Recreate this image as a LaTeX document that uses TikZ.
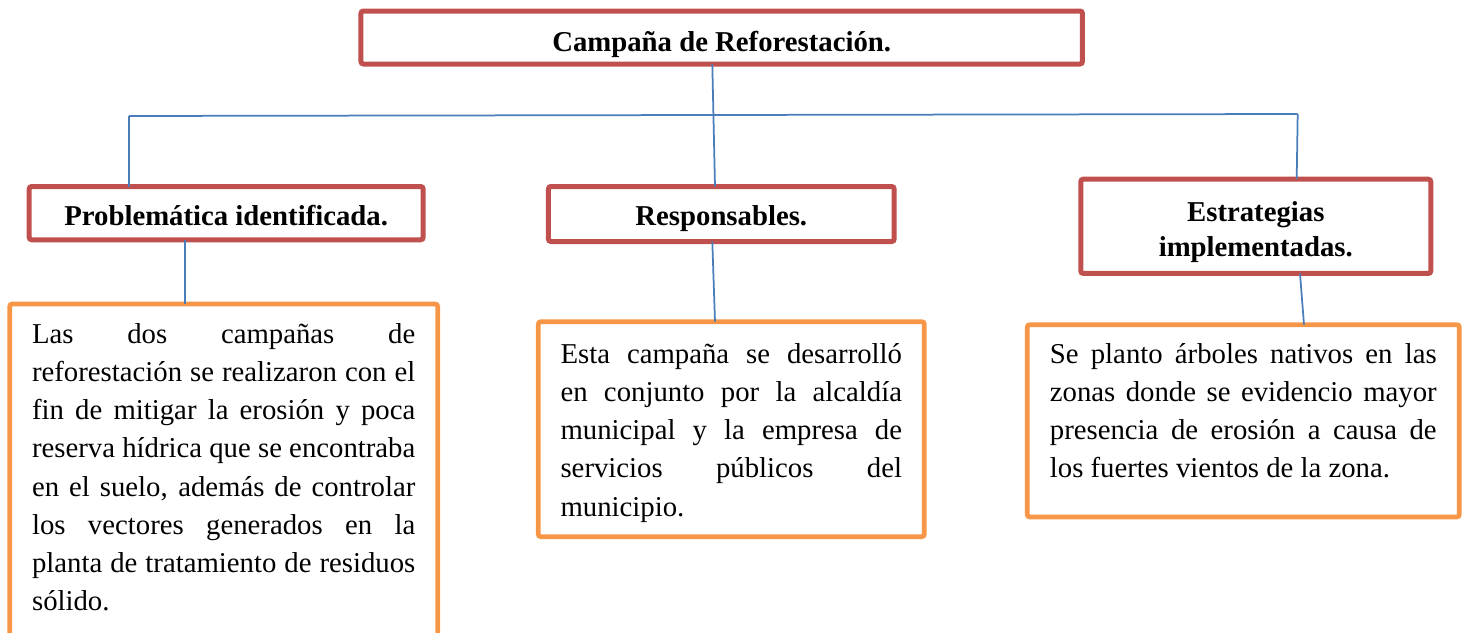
\documentclass[tikz,border=0pt]{standalone}
\usepackage{fontspec}
\setmainfont{Liberation Serif}
\usetikzlibrary{positioning}

\definecolor{boxred}{HTML}{C0504D}
\definecolor{boxorange}{HTML}{F79646}
\definecolor{linkblue}{HTML}{4A7EBB}

\tikzset{
  headbox/.style={draw=boxred, line width=2pt, rounded corners=1pt, inner sep=0pt, outer sep=0pt,
    align=center, font=\bfseries\fontsize{11.5pt}{14pt}\selectfont},
  notebox/.style={draw=boxorange, line width=1.9pt, rounded corners=1pt, inner ysep=0pt, outer sep=0pt,
    align=justify, font=\fontsize{11.5pt}{15.3pt}\selectfont,
    execute at begin node={\tolerance=10000\hbadness=10000}},
  link/.style={draw=linkblue, line width=0.7pt}
}

\begin{document}
\begin{tikzpicture}[x=0.4pt, y=-0.4pt]
  \useasboundingbox (0,0) rectangle (1468,633);

  % Title and headings
  \node[headbox, anchor=north, minimum width=288.6pt, text height=16.3pt, text depth=4.9pt] (camp) at (721.7,11) {Campaña de Reforestación.};
  \node[headbox, anchor=north, minimum width=157.6pt, text height=15.4pt, text depth=5.9pt] (prob) at (226.2,186.5) {Problemática identificada.};
  \node[headbox, anchor=north, minimum width=138.3pt, text height=15.4pt, text depth=6.6pt] (resp) at (721.3,186.5) {Responsables.};
  \node[headbox, anchor=north, minimum width=140pt, text height=31pt, text depth=6.7pt] (estr) at (1255.8,179.2) {Estrategias\\implementadas.};

  % Text boxes
  \node[notebox, anchor=north, text width=153.3pt, inner xsep=8.94pt, text height=15.6pt, text depth=117.2pt] (probnote) at (223.7,304)
    {Las dos campañas de\linebreak reforestación se realizaron con el\linebreak fin de mitigar la erosión y poca\linebreak reserva hídrica que se encontraba\linebreak en el suelo, además de controlar\linebreak los vectores generados en la\linebreak planta de tratamiento de residuos\linebreak sólido.};
  \node[notebox, anchor=north, text width=136.6pt, inner xsep=8.88pt, text height=16.6pt, text depth=69.4pt] (respnote) at (731.3,321.7)
    {Esta campaña se desarrolló\linebreak en conjunto por la alcaldía\linebreak municipal y la empresa de\linebreak servicios públicos del\linebreak municipio.};
  \node[notebox, anchor=north, text width=154.7pt, inner xsep=9.06pt, text height=15.4pt, text depth=61.5pt] (estrnote) at (1243.3,324.7)
    {Se planto árboles nativos en las\linebreak zonas donde se evidencio mayor\linebreak presencia de erosión a causa de\linebreak los fuertes vientos de la zona.};

  % Connectors
  \coordinate (hubL) at (129,116);
  \coordinate (hubR) at (1297.7,114);
  \draw[link] (hubL) -- (hubR);
  \draw[link] (712.3,0 |- camp.south) -- (715,0 |- resp.north);
  \draw[link] (hubL) -- (hubL |- prob.north);
  \draw[link] (hubR) -- (1296.7,0 |- estr.north);
  \draw[link] (185,0 |- prob.south) -- (185,0 |- probnote.north);
  \draw[link] (712.3,0 |- resp.south) -- (715,0 |- respnote.north);
  \draw[link] (1300,0 |- estr.south) -- (1304,0 |- estrnote.north);
\end{tikzpicture}
\end{document}
